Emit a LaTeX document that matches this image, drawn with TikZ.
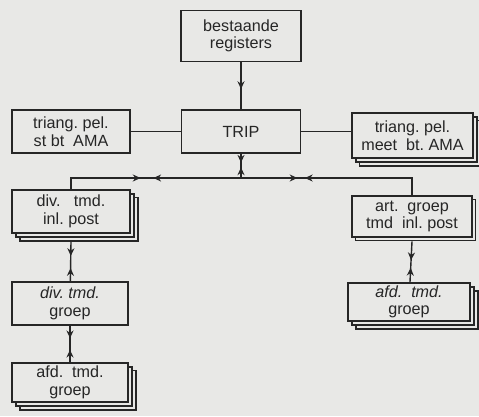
\documentclass[tikz,border=0pt]{standalone}
\usepackage{fontspec}
\setmainfont{Liberation Sans}
\usetikzlibrary{arrows.meta, shadows, decorations.markings}
\definecolor{paper}{RGB}{232,232,230}
\definecolor{ink}{RGB}{38,38,38}

\begin{document}
\begin{tikzpicture}[x=0.025cm, y=-0.025cm, >={Stealth[length=5.5pt,width=5pt]},
    line width=1pt, color=ink, font=\fontsize{11.5}{12.5}\selectfont,
    blok/.style 2 args={draw=ink, line width=1.2pt, fill=paper, align=center,
        inner sep=0pt, minimum width=#1, minimum height=#2},
    kopie/.style={general shadow={shadow scale=1, shadow xshift=#1, shadow yshift=-#1,
        draw=ink, fill=paper, line width=1pt}},
    stapel/.style={kopie=5.6pt, kopie=2.8pt},
    enkel/.style={kopie=2.5pt},
    naar/.style={postaction={decorate, decoration={markings,
        mark=at position #1 with {\arrow{>}}}}},
    paar/.style 2 args={postaction={decorate, decoration={markings,
        mark=at position #1 with {\arrow{>}},
        mark=at position #2 with {\arrowreversed{>}}}}}]
    \path[fill=paper, use as bounding box] (0,0) rectangle (479,416);

    \node[blok={3cm}{1.28cm}] (reg) at (241,36) {bestaande\\registers};
    \node[blok={2.98cm}{1.08cm}] (trip) at (241,131.5) {TRIP};
    \node[blok={2.95cm}{1.08cm}] (st) at (71,131.5) {triang.\ pel.\\st\ bt\ \ AMA};
    \node[blok={3.03cm}{1.13cm}, stapel] (meet) at (412.5,135.5) {triang.\ pel.\\meet\ \ bt.\ AMA};
    \node[blok={2.95cm}{1.08cm}, stapel] (dpost) at (71,211.5) {div.\ \ \ tmd.\\inl.\ post};
    \node[blok={2.9cm}{1.08cm}] (dgroep) at (70,303.5) {\textit{div.\ tmd.}\\groep};
    \node[blok={2.9cm}{0.98cm}, stapel] (afdl) at (70,382.5) {afd.\ \ tmd.\\groep};
    \node[blok={3cm}{1.03cm}, enkel] (apost) at (412,216.5) {art.\ \ groep\\tmd\ \ inl.\ post};
    \node[blok={3.05cm}{0.95cm}, stapel] (afdr) at (409,302) {\textit{afd.\ \ tmd.}\\groep};
    \coordinate (bus) at (241,178);

    % verbindingen
    \draw[naar=0.57] (reg) -- (trip);
    \draw (st) -- (trip);
    \draw (trip.east) -- (trip.east -| meet.west);
    \draw[paar={0.36}{0.56}] (trip) -- (bus);
    \draw[paar={0.445}{0.516}] (dpost.north) |- (bus);
    \draw[paar={0.66}{0.70}] (apost.north) |- (bus);
    \draw[paar={0.36}{0.67}] ([yshift=-5.6pt]dpost.south) -- (dgroep);
    \draw[paar={0.34}{0.66}] (dgroep) -- (afdl);
    \draw[paar={0.46}{0.65}] ([yshift=-2.5pt]apost.south) -- (afdr);
\end{tikzpicture}
\end{document}
